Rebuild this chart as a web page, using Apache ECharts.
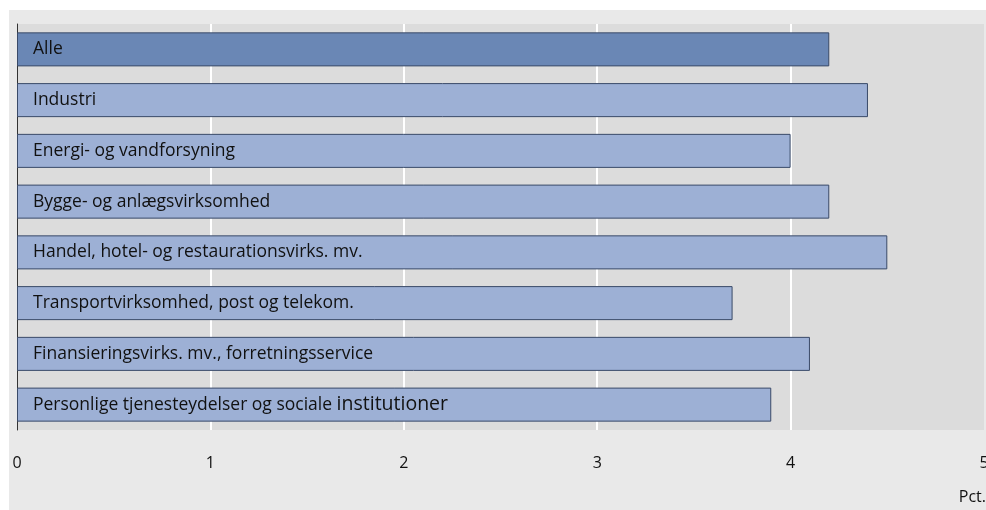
<!DOCTYPE html>
<html><head><meta charset="utf-8">
<script src="https://cdn.jsdelivr.net/npm/echarts@6/dist/echarts.min.js"></script>
<style>html,body{margin:0;padding:0;background:#fff}#c{width:986px;height:510px}</style>
</head><body><div id="c"></div>
<script>
const categories = ["Alle","Industri","Energi- og vandforsyning","Bygge- og anlægsvirksomhed","Handel, hotel- og restaurationsvirks. mv.","Transportvirksomhed, post og telekom.","Finansieringsvirks. mv., forretningsservice","Personlige tjenesteydelser og sociale institutioner"];
const values = [4.2, 4.4, 4.0, 4.2, 4.5, 3.7, 4.1, 3.9];
const xTicks = [0, 1, 2, 3, 4, 5];
const unitLabel = "Pct.";
const FONT = "'Open Sans',sans-serif";
const chart = echarts.init(document.getElementById('c'));
chart.setOption({
  animation:false,
  backgroundColor:'#ffffff',
  graphic:[
    {type:'rect',left:9,top:10,shape:{width:977,height:500},style:{fill:'#e9e9e9'},z:-10},
    {type:'text',right:0,top:489,style:{text:unitLabel,font:"16px "+FONT,fill:'#111'}}
  ],
  grid:{left:17,right:2,top:24,bottom:80,show:true,backgroundColor:'#dcdcdc',borderWidth:0,outerBoundsMode:'none',containLabel:false},
  xAxis:{type:'value',min:xTicks[0],max:xTicks[xTicks.length-1],interval:1,
    axisLine:{show:false},axisTick:{show:false},
    splitLine:{show:true,showMinLine:false,showMaxLine:false,lineStyle:{color:'#ffffff',width:2}},
    axisLabel:{margin:25,color:'#111',fontSize:16,fontFamily:FONT,showMaxLabel:true,hideOverlap:false}},
  yAxis:{type:'category',data:categories,inverse:true,
    axisLine:{show:true,lineStyle:{color:'#333',width:1}},axisTick:{show:false},axisLabel:{show:false}},
  series:[{type:'bar',barCategoryGap:'33%',
    data:values.map((v,i)=>({value:v,itemStyle:{color:i===0?'#6a87b5':'#9db0d5'}})),
    itemStyle:{borderColor:'#3a4a68',borderWidth:1},
    label:{show:true,position:'insideLeft',distance:16,
      formatter:p=>{
        const t=categories[p.dataIndex];
        const k=t.lastIndexOf(' institutioner');
        if(k>0) return '{a|'+t.slice(0,k)+' }{b|institutioner}';
        return '{a|'+t+'}';
      },
      rich:{a:{color:'#111',fontSize:17.5,fontFamily:FONT},b:{color:'#111',fontSize:19.5,fontFamily:FONT}}
    }
  }]
});
</script></body></html>
